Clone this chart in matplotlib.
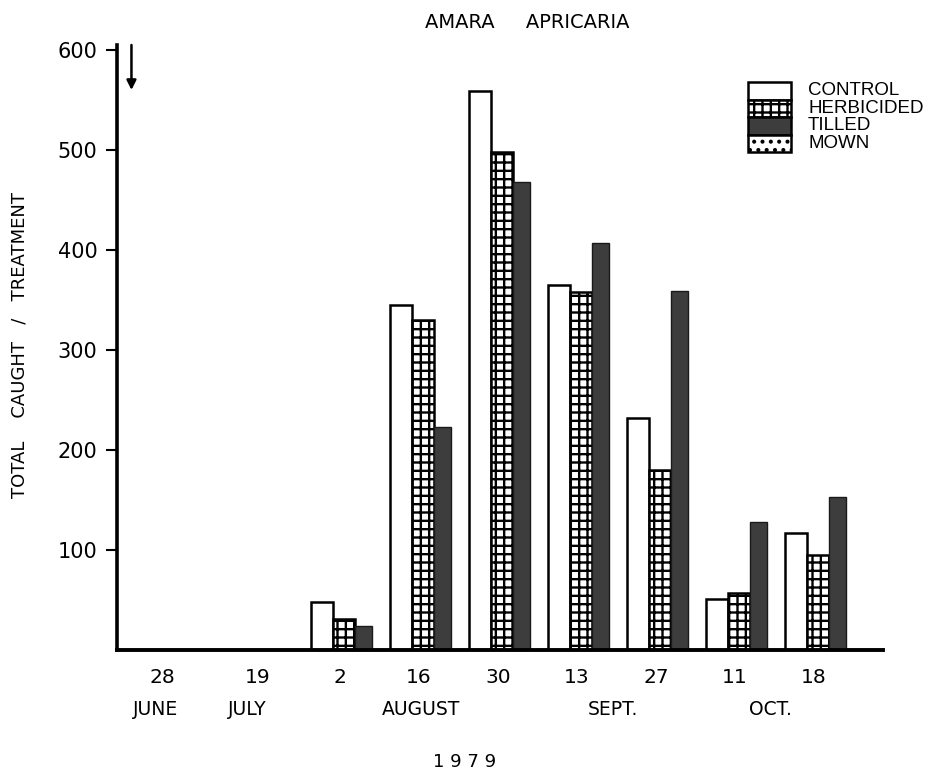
import matplotlib
matplotlib.use("Agg")
import matplotlib.pyplot as plt
import matplotlib.transforms as mtransforms
import numpy as np
from matplotlib.patches import Rectangle

# ---- data ----
days = ["28", "19", "2", "16", "30", "13", "27", "11", "18"]
months = ["JUNE", "JULY", "AUGUST", "SEPT.", "OCT."]
month_centers = [-0.34, 0.83, 3.03, 5.45, 7.45]
series_names = ["CONTROL", "HERBICIDED", "TILLED", "MOWN"]
control = [0, 0, 48, 345, 559, 365, 232, 51, 117]
herbicided = [0, 0, 31, 330, 498, 358, 180, 57, 95]
tilled = [0, 0, 24, 223, 468, 407, 359, 128, 153]
yticks = [100, 200, 300, 400, 500, 600]
title = "AMARA     APRICARIA"
ylabel = "TOTAL    CAUGHT   /   TREATMENT"
year = "1 9 7 9"

plt.rcParams['hatch.linewidth'] = 1.7
plt.rcParams['font.family'] = ['DejaVu Sans']

fig = plt.figure(figsize=(9.3, 7.82), dpi=100)
ax = fig.add_axes([117/930, 1-650/782, 766/930, 605/782])

x = np.arange(len(days))
ax.bar(x - 0.37, control, width=0.28, align='edge', facecolor='white',
       edgecolor='black', linewidth=1.8)
ax.bar(x - 0.09, herbicided, width=0.28, align='edge', facecolor='white',
       edgecolor='black', linewidth=1.8, hatch='++')
ax.bar(x + 0.19, tilled, width=0.21, align='edge', facecolor='#3d3d3d',
       edgecolor='#1a1a1a', linewidth=1.0)

ax.set_xlim(-0.823, 8.873)
ax.set_ylim(0, 605)
ax.spines['top'].set_visible(False)
ax.spines['right'].set_visible(False)
ax.spines['left'].set_linewidth(2.6)
ax.spines['bottom'].set_linewidth(2.8)

ax.set_yticks(yticks)
ax.set_yticklabels([str(v) for v in yticks], fontsize=15)
ax.tick_params(axis='y', direction='out', length=8, width=1.5, pad=6)
ax.set_xticks(x)
ax.set_xticklabels(days, fontsize=14.5)
ax.tick_params(axis='x', length=0, pad=13)
# first and second day labels sit slightly left of their slot
for lab, dx in zip(ax.get_xticklabels()[:2], [-20, -3]):
    lab.set_transform(lab.get_transform() +
                      mtransforms.ScaledTranslation(dx/100, 0, fig.dpi_scale_trans))

# month labels
trans = ax.get_xaxis_transform()
for m, c in zip(months, month_centers):
    ax.text(c, -0.099, m, transform=trans, ha='center', va='center', fontsize=13.5)

# arrow near the top of the y axis
ax.annotate('', xy=(-0.64, 560), xytext=(-0.64, 605),
            arrowprops=dict(arrowstyle='-|>', color='black', lw=1.8,
                            mutation_scale=14, shrinkA=0, shrinkB=0))

# legend drawn as stacked boxes
fills = [dict(facecolor='white', hatch=None),
         dict(facecolor='white', hatch='++'),
         dict(facecolor='#3d3d3d', hatch=None),
         dict(facecolor='white', hatch='..')]
bx0, bw, bh = 748, 43, 17.5
by0 = 82
for i, (name, f) in enumerate(zip(series_names, fills)):
    ytop = by0 + i * bh
    r = Rectangle((bx0/930, 1 - (ytop + bh)/782), bw/930, bh/782,
                  transform=fig.transFigure, facecolor=f['facecolor'],
                  hatch=f['hatch'], edgecolor='black', linewidth=1.8)
    fig.add_artist(r)
    fig.text(808/930, 1 - (ytop + bh/2)/782, name, ha='left', va='center',
             fontsize=13.5, family=['Liberation Sans'])

fig.text(527/930, 1 - 22/782, title, ha='center', va='center', fontsize=14)
fig.text(20/930, 1 - 345/782, ylabel, ha='center', va='center', rotation=90,
         fontsize=13)
fig.text(465/930, 1 - 762/782, year, ha='center', va='center', fontsize=13)

fig.savefig("out.png", dpi=100, facecolor='white')
